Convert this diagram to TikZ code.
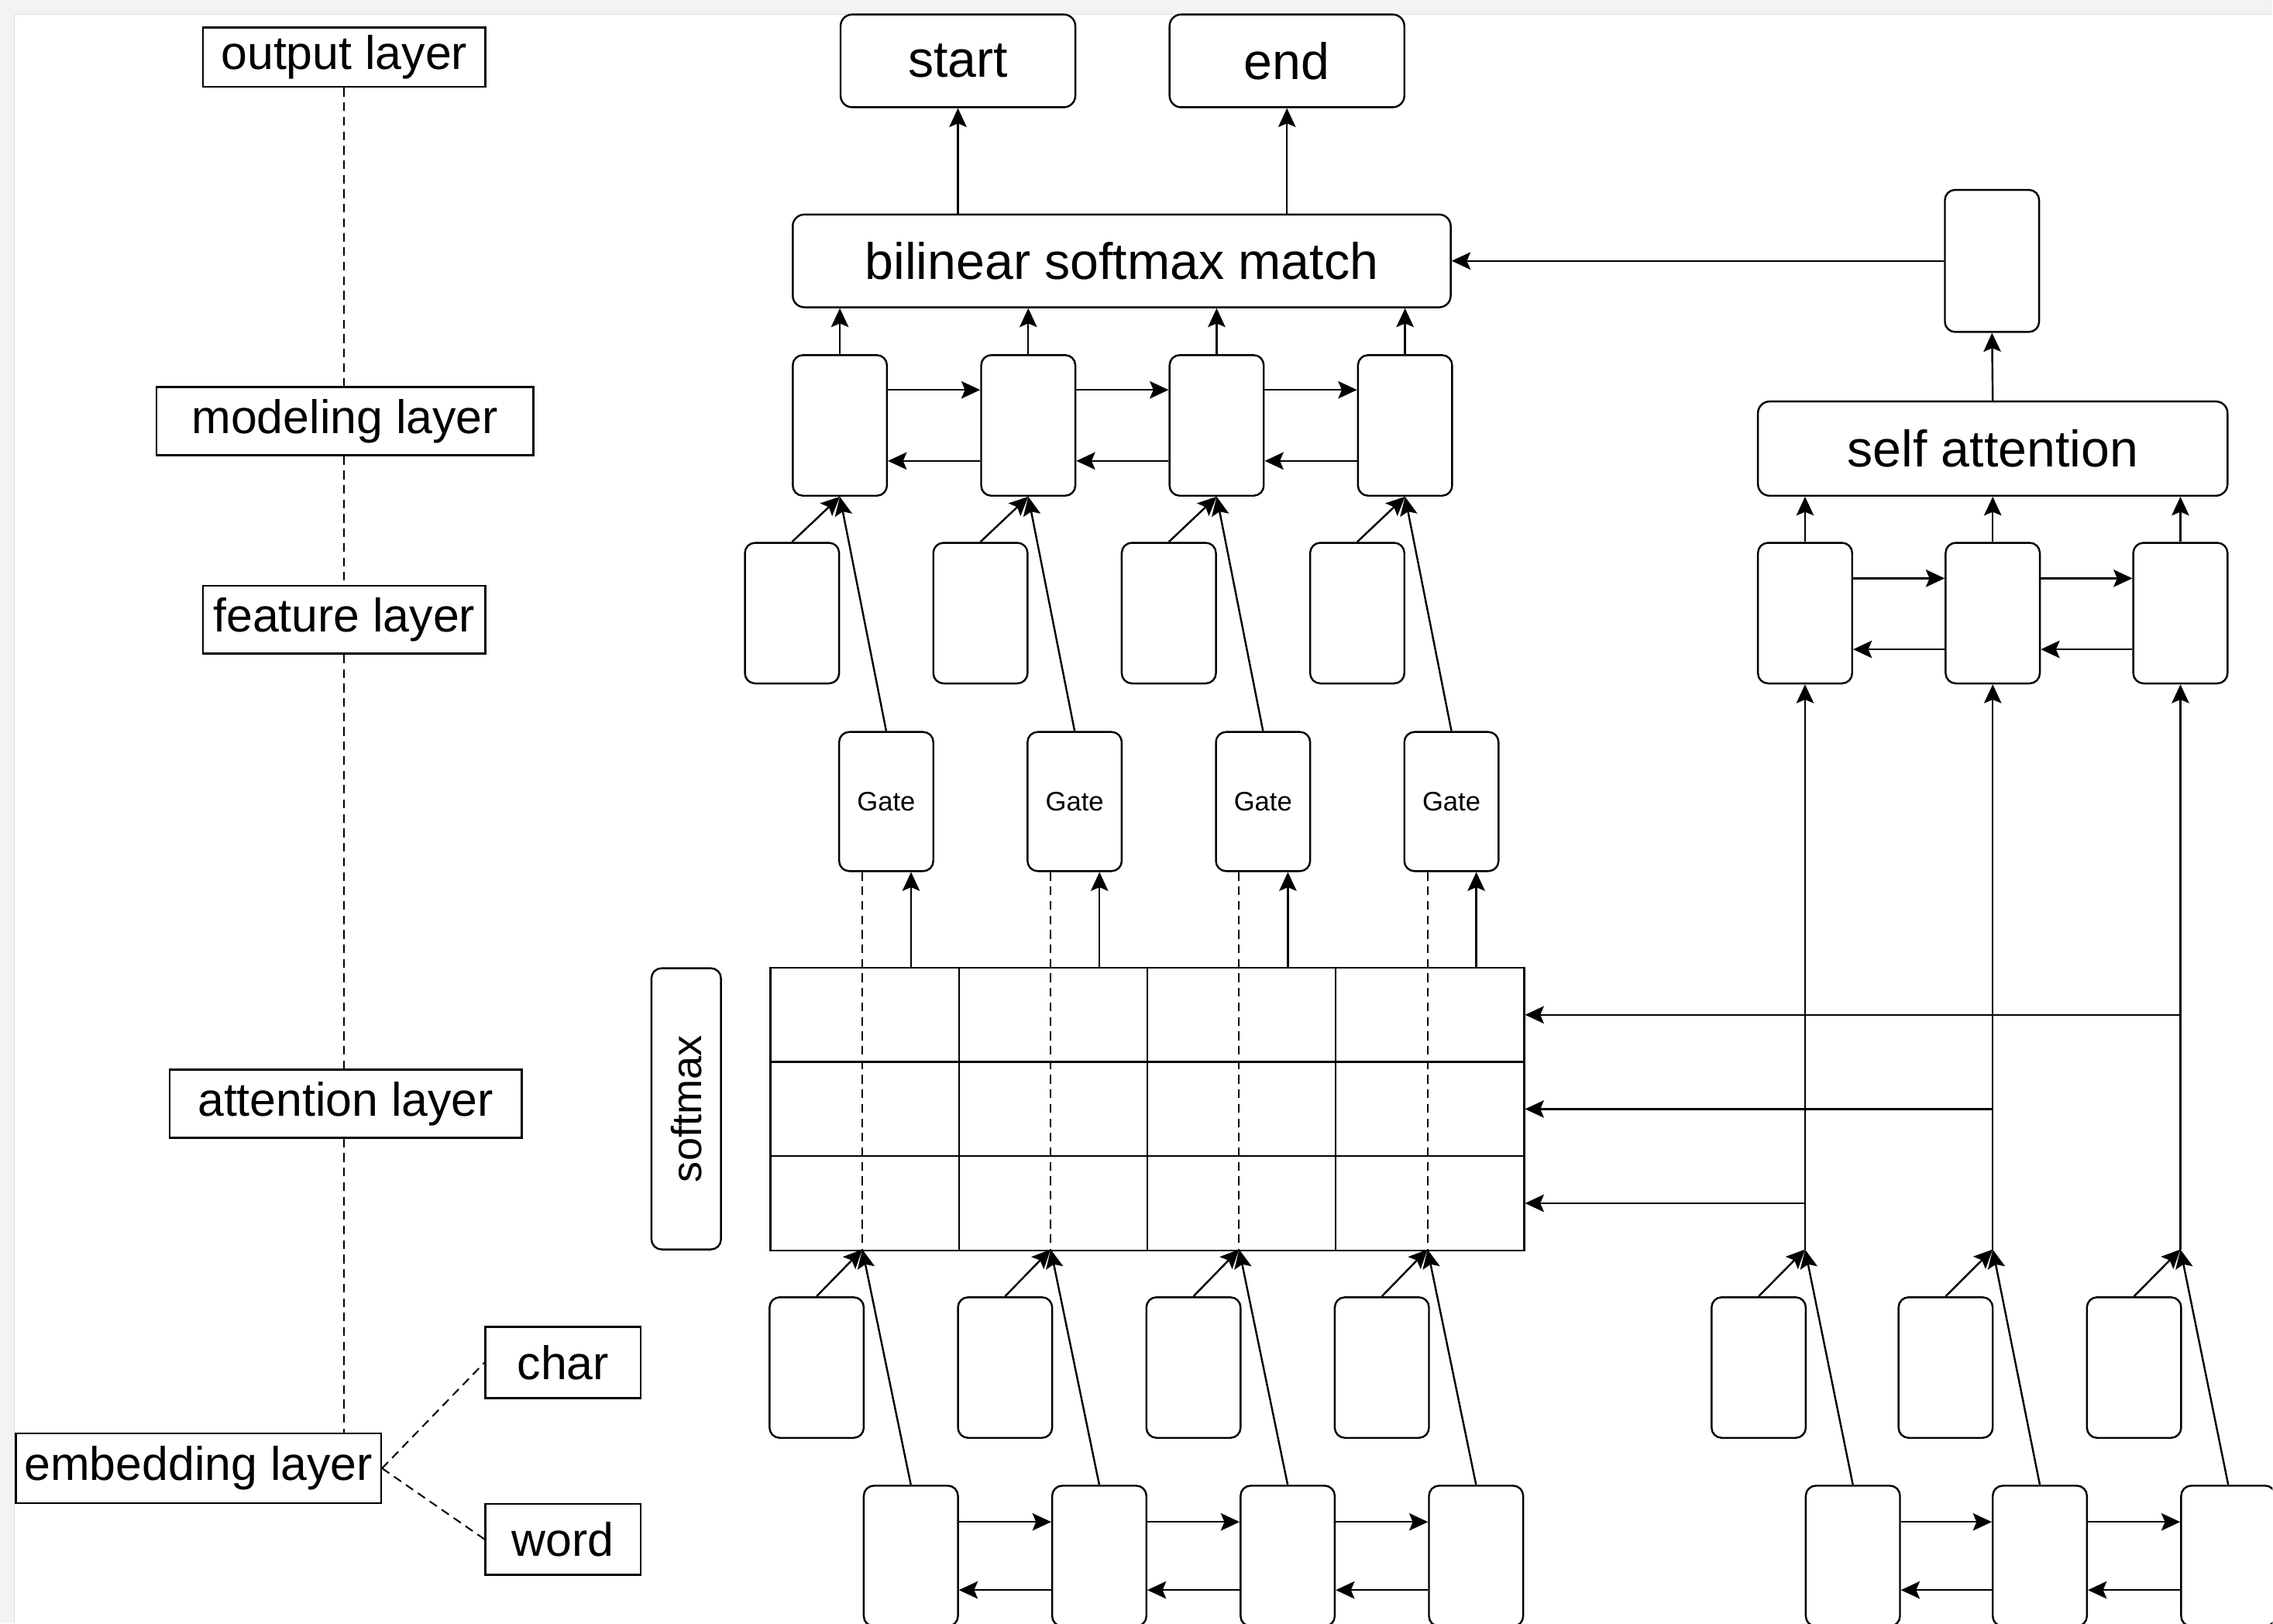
\documentclass[tikz,border=0pt]{standalone}
\usepackage{fontspec}
\setmainfont{Liberation Sans}
\usetikzlibrary{arrows.meta}
\definecolor{bggrey}{HTML}{F3F3F3}
\definecolor{bgline}{HTML}{DDDDDD}
\begin{document}
\begin{tikzpicture}[x=1pt,y=-1pt,line width=1.3pt,
  cell/.style={draw, rounded corners=7pt, fill=white, minimum width=65pt, minimum height=97pt, inner sep=0pt},
  bigbox/.style={draw, rounded corners=8pt, fill=white, inner sep=0pt, font=\fontsize{35.4pt}{42pt}\selectfont},
  lbl/.style={draw, fill=white, inner sep=0pt, font=\fontsize{32.5pt}{38pt}\selectfont},
  gatebox/.style={cell, minimum height=96pt, font=\fontsize{18.5pt}{22pt}\selectfont},
  gridcell/.style={draw, minimum width=130pt, minimum height=65pt, inner sep=0pt, anchor=north west},
  arr/.style={-{Stealth[length=13pt,width=12pt,inset=2.5pt]}},
  dashline/.style={line width=1.1pt, dash pattern=on 6pt off 4pt},
]
% background
\fill[bggrey] (0,0) rectangle (1568,1120);
\fill[white] (10,10) rectangle (1568,1120);
\draw[bgline, line width=0.8pt] (10,1120) -- (10,10) -- (1568,10);
\useasboundingbox (0,0) rectangle (1568,1120);
\clip (0,0) rectangle (1568,1120);

% ---------- left layer labels ----------
\node[lbl, minimum width=195pt, minimum height=41pt] (outl) at (237.5,39.5) {output layer};
\node[lbl, minimum width=260pt, minimum height=47pt] (modl) at (238,290.5) {modeling layer};
\node[lbl, minimum width=195pt, minimum height=47pt] (featl) at (237.5,427.5) {feature layer};
\node[lbl, minimum width=243pt, minimum height=47pt] (attl) at (238.5,761.5) {attention layer};
\node[lbl, minimum width=252pt, minimum height=48pt] (emb) at (137,1013) {embedding layer};
\node[lbl, minimum width=107pt, minimum height=49pt] (charl) at (388.5,940) {char};
\node[lbl, minimum width=107pt, minimum height=49pt] (wordl) at (388.5,1062) {word};

\draw[dashline] (outl.south) -- (outl.south |- modl.north);
\draw[dashline] (outl.south |- modl.south) -- (outl.south |- featl.north);
\draw[dashline] (outl.south |- featl.south) -- (outl.south |- attl.north);
\draw[dashline] (outl.south |- attl.south) -- (outl.south |- emb.north);
\draw[dashline] (emb.east) -- (charl.west);
\draw[dashline] (emb.east) -- (wordl.west);

% ---------- top ----------
\node[bigbox, minimum width=162pt, minimum height=64pt] (start) at (661,42) {start};
\node[bigbox, minimum width=162pt, minimum height=64pt] (end) at (888,42) {end};
\node[bigbox, minimum width=454pt, minimum height=64pt] (bil) at (774,180) {bilinear softmax match};
\node[cell, minimum height=98pt] (sa2) at (1374.5,180) {};
\node[bigbox, minimum width=324pt, minimum height=65pt] (sa) at (1375,309.5) {self attention};

\draw[arr] (start.south |- bil.north) -- (start.south);
\draw[arr] (end.south |- bil.north) -- (end.south);
\draw[arr] (sa2.west) -- (bil.east);
\draw[arr] (sa.north) -- (sa2.south);

% ---------- left column stacks ----------
\foreach \i in {0,...,3} {
  \node[cell] (M\i) at ({579.5+130*\i},293.5) {};
  \node[cell] (F\i) at ({546.5+130*\i},423) {};
  \node[gatebox] (G\i) at ({611.5+130*\i},553) {Gate};
  \node[cell] (C\i) at ({563.5+130*\i},943.5) {};
  \node[cell] (W\i) at ({628.5+130*\i},1073.5) {};
}
% softmax grid
\foreach \r in {0,1,2} {
  \foreach \c in {0,...,3} {
    \node[gridcell] (g\r\c) at ({531+130*\c},{667+65*\r}) {};
  }
}
\node[draw, rounded corners=7pt, rotate=90, minimum width=194pt, minimum height=48pt, inner sep=0pt,
      font=\fontsize{29pt}{34pt}\selectfont] (smx) at (473.5,765) {softmax};

\foreach \i in {0,...,3} {
  \coordinate (j\i) at ({595+130*\i},862);
  \draw[arr] (M\i.north) -- (M\i.north |- bil.south);
  \draw[arr] (F\i.north) -- (M\i.south);
  \draw[arr] (G\i.north) -- (M\i.south);
  \draw[arr] ([xshift=-16pt]G\i.south east |- g0\i.north) -- ([xshift=-16pt]G\i.south east);
  \draw[dashline] (j\i |- G\i.south) -- (j\i);
  \draw[arr] (C\i.north) -- (j\i);
  \draw[arr] (W\i.north) -- (j\i);
}
\foreach \i/\k in {0/1,1/2,2/3} {
  \draw[arr] ([yshift=24.5pt]M\i.east) -- ([yshift=24.5pt]M\k.west);
  \draw[arr] ([yshift=-24.5pt]M\k.west) -- ([yshift=-24.5pt]M\i.east);
  \draw[arr] ([yshift=23.5pt]W\i.east) -- ([yshift=23.5pt]W\k.west);
  \draw[arr] ([yshift=-23.5pt]W\k.west) -- ([yshift=-23.5pt]W\i.east);
}

% ---------- right column ----------
\node[cell] (S1) at (1245.5,423) {};
\node[cell] (S2) at (1375,423) {};
\node[cell] (S3) at (1504.5,423) {};
\node[cell] (RC1) at (1213.5,943.5) {};
\node[cell] (RC2) at (1342.5,943.5) {};
\node[cell] (RC3) at (1472.5,943.5) {};
\node[cell] (RW1) at (1278.5,1073.5) {};
\node[cell] (RW2) at (1407.5,1073.5) {};
\node[cell] (RW3) at (1537.5,1073.5) {};
\coordinate (rj1) at (1245.5,862);
\coordinate (rj2) at (1375,862);
\coordinate (rj3) at (1504.5,862);

\foreach \i in {1,2,3} {
  \draw[arr] (S\i.north) -- (S\i.north |- sa.south);
  \draw[arr] (rj\i) -- (S\i.south);
  \draw[arr] (RC\i.north) -- (rj\i);
  \draw[arr] (RW\i.north) -- (rj\i);
}
\draw[arr] (rj3 |- g03.east) -- (g03.east);
\draw[arr] (rj2 |- g13.east) -- (g13.east);
\draw[arr] (rj1 |- g23.east) -- (g23.east);

\foreach \i/\k in {1/2,2/3} {
  \draw[arr] ([yshift=24pt]S\i.east) -- ([yshift=24pt]S\k.west);
  \draw[arr] ([yshift=-25pt]S\k.west) -- ([yshift=-25pt]S\i.east);
  \draw[arr] ([yshift=23.5pt]RW\i.east) -- ([yshift=23.5pt]RW\k.west);
  \draw[arr] ([yshift=-23.5pt]RW\k.west) -- ([yshift=-23.5pt]RW\i.east);
}
\end{tikzpicture}
\end{document}
